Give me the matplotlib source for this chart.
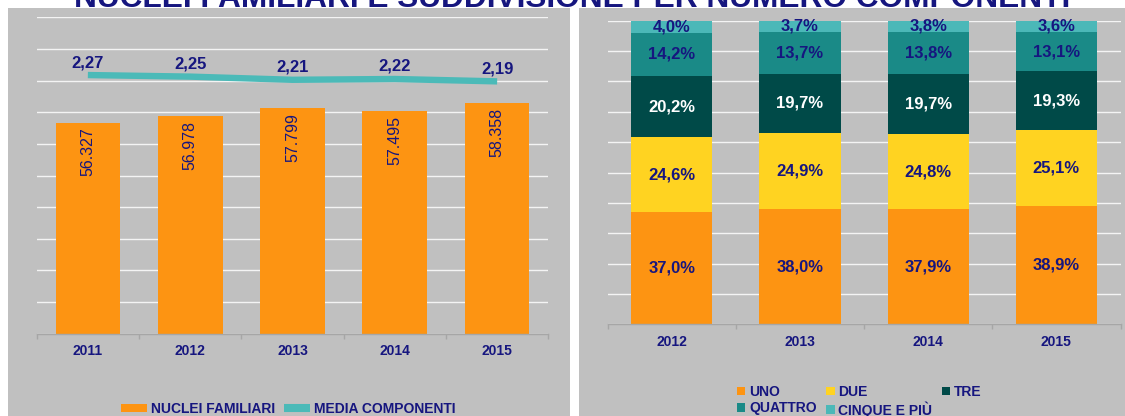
import matplotlib
matplotlib.use("Agg")
import matplotlib.pyplot as plt
import numpy as np
from matplotlib.patches import Rectangle, Patch
from matplotlib.lines import Line2D

plt.rcParams['font.family'] = ['Liberation Sans', 'DejaVu Sans']

# left chart: households and average size
years_left = ['2011', '2012', '2013', '2014', '2015']
nuclei = [56327, 56978, 57799, 57495, 58358]
media = [2.27, 2.25, 2.21, 2.22, 2.19]

# right chart: share by number of members (%)
years_right = ['2012', '2013', '2014', '2015']
uno = [37.0, 38.0, 37.9, 38.9]
due = [24.6, 24.9, 24.8, 25.1]
tre = [20.2, 19.7, 19.7, 19.3]
quattro = [14.2, 13.7, 13.8, 13.1]
cinque = [4.0, 3.7, 3.8, 3.6]
series_names = ['UNO', 'DUE', 'TRE', 'QUATTRO', 'CINQUE E PIÙ']

title = 'NUCLEI FAMILIARI E SUDDIVISIONE PER NUMERO COMPONENTI'

NAVY = '#16167f'
ORANGE = '#fd9412'
TEAL_LINE = '#4bbab8'
BG = '#c0c0c0'
GRID = '#f4f4f4'
AXIS = '#a6a6a6'
seg_colors = ['#fd9412', '#ffd321', '#004a48', '#1a8a87', '#4bb8b8']
seg_text = [NAVY, NAVY, 'white', NAVY, NAVY]

W, H = 1125, 416
fig = plt.figure(figsize=(W / 100, H / 100), dpi=100)
fig.patch.set_facecolor('white')


def px_rect(x0, y0, x1, y1):
    # rectangle in pixel coords measured from the top-left corner
    return Rectangle((x0 / W, 1 - y1 / H), (x1 - x0) / W, (y1 - y0) / H,
                     transform=fig.transFigure, facecolor=BG, edgecolor='none', zorder=-5)


fig.add_artist(px_rect(8, 8, 570.5, 416))
fig.add_artist(px_rect(578.5, 8, 1125, 416))

fig.text(572 / W, 1 - 7.0 / H, title, ha='center', va='baseline',
         fontsize=22.8, fontweight='bold', color=NAVY)


def axes_px(x0, y0, x1, y1):
    return fig.add_axes([x0 / W, 1 - y1 / H, (x1 - x0) / W, (y1 - y0) / H])


def style_axes(ax, n):
    ax.set_facecolor('none')
    for s in ['left', 'right', 'top']:
        ax.spines[s].set_visible(False)
    ax.spines['bottom'].set_color(AXIS)
    ax.spines['bottom'].set_linewidth(1.0)
    ax.set_xlim(-0.5, n - 0.5)
    ax.set_xticks(np.arange(-0.5, n, 1.0), minor=True)
    ax.tick_params(axis='x', which='major', length=0, pad=7.6, labelsize=10, labelcolor=NAVY)
    ax.tick_params(axis='x', which='minor', length=3.3, width=1.0, color=AXIS, direction='out')
    for lbl in ax.get_xticklabels():
        lbl.set_fontweight('bold')
    ax.yaxis.grid(True, color=GRID, linewidth=1.0)
    ax.tick_params(axis='y', which='both', length=0, left=False, right=False,
                   labelleft=False, labelright=False)
    ax.set_axisbelow(True)


# ---------- left chart ----------
ax1 = axes_px(36.7, 17.3, 548.3, 333.7)
x1 = np.arange(len(years_left))
ax1.bar(x1, nuclei, width=0.632, color=ORANGE, zorder=2)
ax1.set_ylim(35000, 67000)
ax1.set_yticks(np.arange(35000, 67001, 3200))
ax1.set_xticks(x1, years_left)
style_axes(ax1, len(years_left))

for xi, v in zip(x1, nuclei):
    ax1.annotate(f'{v:,}'.replace(',', '.'), (xi, v), xytext=(0, -3.5),
                 textcoords='offset points', rotation=90, ha='center', va='top',
                 fontsize=11.5, color=NAVY, zorder=3)

ax1b = ax1.twinx()
ax1b.set_ylim(-1, 3)
ax1b.axis('off')
ax1b.plot(x1, media, color=TEAL_LINE, linewidth=4.6, solid_capstyle='butt')
for xi, v in zip(x1, media):
    ax1b.annotate(f'{v:.2f}'.replace('.', ','), (xi, v), xytext=(0, 9),
                  textcoords='offset points', ha='center', va='center',
                  fontsize=12, fontweight='bold', color=NAVY)

leg1_handles = [Patch(facecolor=ORANGE, edgecolor='none'),
                Line2D([0], [0], color=TEAL_LINE, linewidth=5.8, solid_capstyle='butt')]
fig.legend(leg1_handles, ['NUCLEI FAMILIARI', 'MEDIA COMPONENTI'], loc='center left',
           bbox_to_anchor=(121 / W, 1 - 408.8 / H), ncol=2, frameon=False,
           borderpad=0, borderaxespad=0, handlelength=1.87, handleheight=0.58,
           handletextpad=0.28, columnspacing=0.65,
           prop={'size': 10, 'weight': 'bold'}, labelcolor=NAVY)

# ---------- right chart ----------
ax2 = axes_px(607.7, 20.7, 1120.5, 324.3)
x2 = np.arange(len(years_right))
segments = [uno, due, tre, quattro, cinque]
bottom = np.zeros(len(years_right))
bar_handles = []
for vals, col, tcol in zip(segments, seg_colors, seg_text):
    b = ax2.bar(x2, vals, width=0.632, bottom=bottom, color=col, zorder=2)
    bar_handles.append(b)
    for xi, v, b0 in zip(x2, vals, bottom):
        ax2.text(xi, b0 + v / 2, f'{v:.1f}%'.replace('.', ','), ha='center', va='center',
                 fontsize=12, fontweight='bold', color=tcol, zorder=3)
    bottom = bottom + np.array(vals)
ax2.set_ylim(0, 100)
ax2.set_yticks(np.arange(0, 101, 10))
ax2.set_xticks(x2, years_right)
style_axes(ax2, len(years_right))

# matplotlib fills legend columns first, so reorder for the row-wise look
order = [0, 3, 1, 4, 2]
fig.legend([bar_handles[i] for i in order], [series_names[i] for i in order],
           loc='upper left', bbox_to_anchor=(737.3 / W, 1 - 385 / H), ncol=3,
           frameon=False, borderpad=0, borderaxespad=0, handlelength=0.58,
           handleheight=0.58, handletextpad=0.27, columnspacing=0.7,
           labelspacing=0.15, prop={'size': 10, 'weight': 'bold'}, labelcolor=NAVY)

fig.savefig('out.png', dpi=100)
